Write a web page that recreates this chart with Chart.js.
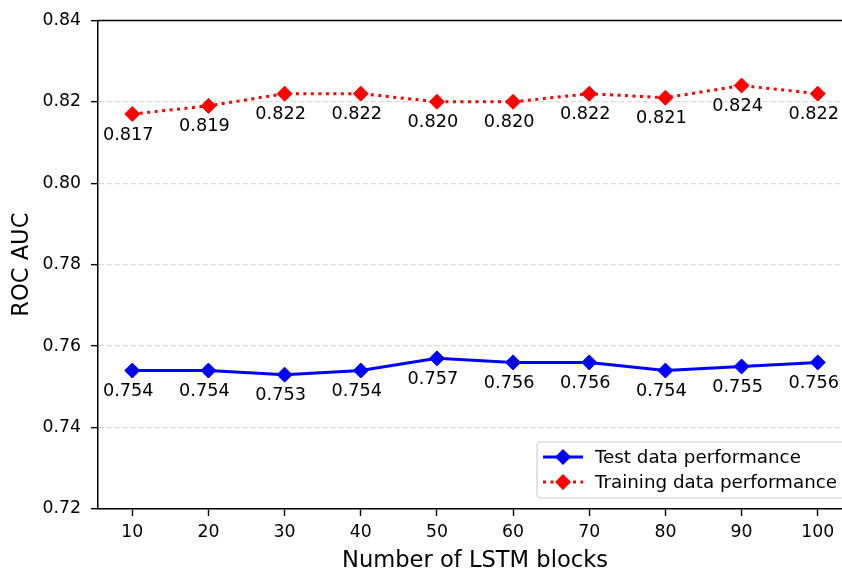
<!DOCTYPE html>
<html>
<head>
<meta charset="utf-8">
<script src="https://cdn.jsdelivr.net/npm/chart.js@4.4.1/dist/chart.umd.min.js"></script>
<style>
  html, body { margin: 0; padding: 0; background: #fff; overflow: hidden; }
  #wrap { width: 880px; height: 571px; }
</style>
</head>
<body>
<div id="wrap"><canvas id="rocChart" width="880" height="571"></canvas></div>
<script>
const lstmBlocks = [10, 20, 30, 40, 50, 60, 70, 80, 90, 100];
const testAuc = [0.754, 0.754, 0.753, 0.754, 0.757, 0.756, 0.756, 0.754, 0.755, 0.756];
const trainAuc = [0.817, 0.819, 0.822, 0.822, 0.820, 0.820, 0.822, 0.821, 0.824, 0.822];
const yTicks = [0.72, 0.74, 0.76, 0.78, 0.80, 0.82, 0.84];

const FONT = 'DejaVu Sans';

// value labels under each marker, like the matplotlib annotations
const valueLabels = {
  id: 'valueLabels',
  afterDatasetsDraw(chart) {
    const ctx = chart.ctx;
    ctx.save();
    ctx.font = '17.7px "' + FONT + '"';
    ctx.fillStyle = '#000';
    ctx.textAlign = 'center';
    ctx.textBaseline = 'middle';
    chart.data.datasets.forEach((ds, i) => {
      chart.getDatasetMeta(i).data.forEach((pt, j) => {
        ctx.fillText(ds.data[j].y.toFixed(3), pt.x - 4, pt.y + 21);
      });
    });
    ctx.restore();
  }
};

// top spine + legend box in the lower right corner
const frameAndLegend = {
  id: 'frameAndLegend',
  afterDraw(chart) {
    const ctx = chart.ctx;
    const area = chart.chartArea;
    ctx.save();
    ctx.strokeStyle = '#000';
    ctx.lineWidth = 1.5;
    ctx.beginPath();
    ctx.moveTo(area.left - 0.75, area.top);
    ctx.lineTo(area.right, area.top);
    ctx.stroke();

    const bx = 537, by = 442, bw = 310, bh = 56, r = 4;
    ctx.beginPath();
    ctx.moveTo(bx + r, by);
    ctx.lineTo(bx + bw - r, by);
    ctx.arcTo(bx + bw, by, bx + bw, by + r, r);
    ctx.lineTo(bx + bw, by + bh - r);
    ctx.arcTo(bx + bw, by + bh, bx + bw - r, by + bh, r);
    ctx.lineTo(bx + r, by + bh);
    ctx.arcTo(bx, by + bh, bx, by + bh - r, r);
    ctx.lineTo(bx, by + r);
    ctx.arcTo(bx, by, bx + r, by, r);
    ctx.closePath();
    ctx.fillStyle = 'rgba(255,255,255,0.85)';
    ctx.fill();
    ctx.strokeStyle = '#d0d0d0';
    ctx.lineWidth = 1.2;
    ctx.stroke();

    chart.data.datasets.forEach((ds, i) => {
      const y = 457 + i * 25;
      ctx.strokeStyle = ds.borderColor;
      ctx.lineWidth = ds.borderWidth;
      ctx.setLineDash(ds.borderDash || []);
      ctx.beginPath();
      ctx.moveTo(543, y);
      ctx.lineTo(583, y);
      ctx.stroke();
      ctx.setLineDash([]);
      const rad = 8;
      ctx.fillStyle = ds.pointBackgroundColor;
      ctx.beginPath();
      ctx.moveTo(563 - rad, y);
      ctx.lineTo(563, y - rad);
      ctx.lineTo(563 + rad, y);
      ctx.lineTo(563, y + rad);
      ctx.closePath();
      ctx.fill();
      ctx.fillStyle = '#000';
      ctx.font = '18.3px "' + FONT + '"';
      ctx.textAlign = 'left';
      ctx.textBaseline = 'middle';
      ctx.fillText(ds.label, 595, y + 1);
    });
    ctx.restore();
  }
};

const ctx = document.getElementById('rocChart').getContext('2d');
new Chart(ctx, {
  type: 'line',
  data: {
    datasets: [{
      label: 'Test data performance',
      data: lstmBlocks.map((x, i) => ({ x: x, y: testAuc[i] })),
      borderColor: '#0000ff',
      backgroundColor: '#0000ff',
      pointBackgroundColor: '#0000ff',
      pointBorderColor: '#0000ff',
      borderWidth: 3,
      pointStyle: 'rectRot',
      pointRadius: 7.5,
      pointBorderWidth: 1,
      tension: 0,
      fill: false
    }, {
      label: 'Training data performance',
      data: lstmBlocks.map((x, i) => ({ x: x, y: trainAuc[i] })),
      borderColor: '#ff0000',
      backgroundColor: '#ff0000',
      pointBackgroundColor: '#ff0000',
      pointBorderColor: '#ff0000',
      borderWidth: 3,
      borderDash: [3, 4.5],
      borderCapStyle: 'butt',
      pointStyle: 'rectRot',
      pointRadius: 7.5,
      pointBorderWidth: 1,
      tension: 0,
      fill: false
    }]
  },
  options: {
    responsive: false,
    animation: false,
    devicePixelRatio: 1,
    layout: { padding: { left: 0, top: 18, right: 28, bottom: 0 } },
    plugins: {
      legend: { display: false },
      tooltip: { enabled: false }
    },
    scales: {
      x: {
        type: 'linear',
        min: 5.5,
        max: 104.5,
        afterBuildTicks: s => { s.ticks = lstmBlocks.map(v => ({ value: v })); },
        afterFit: s => { s.height = 62; },
        ticks: {
          color: '#000',
          font: { family: FONT, size: 17.3 },
          padding: 6,
          maxRotation: 0,
          autoSkip: false
        },
        grid: {
          drawOnChartArea: false,
          drawTicks: true,
          tickLength: 7,
          tickColor: '#000',
          tickWidth: 1.4
        },
        border: { display: true, color: '#000', width: 1.5 },
        title: {
          display: true,
          text: 'Number of LSTM blocks',
          color: '#000',
          font: { family: FONT, size: 22.6, lineHeight: 0.9 },
          padding: { top: 0, bottom: 0 }
        }
      },
      y: {
        min: 0.72,
        max: 0.84,
        afterBuildTicks: s => { s.ticks = yTicks.map(v => ({ value: v })); },
        afterFit: s => { s.width = 98; },
        ticks: {
          color: '#000',
          font: { family: FONT, size: 17.3 },
          padding: 10,
          callback: v => v.toFixed(2)
        },
        grid: {
          color: '#dcdcdc',
          lineWidth: 1.3,
          drawTicks: true,
          tickLength: 7,
          tickColor: '#000',
          tickWidth: 1.4,
          tickBorderDash: []
        },
        border: { display: true, color: '#000', width: 1.5, dash: [5.5, 2.5] },
        title: {
          display: true,
          text: 'ROC AUC',
          color: '#000',
          font: { family: FONT, size: 22.6, lineHeight: 1.2 },
          padding: { top: 9, bottom: 0 }
        }
      }
    }
  },
  plugins: [valueLabels, frameAndLegend]
});
</script>
</body>
</html>
